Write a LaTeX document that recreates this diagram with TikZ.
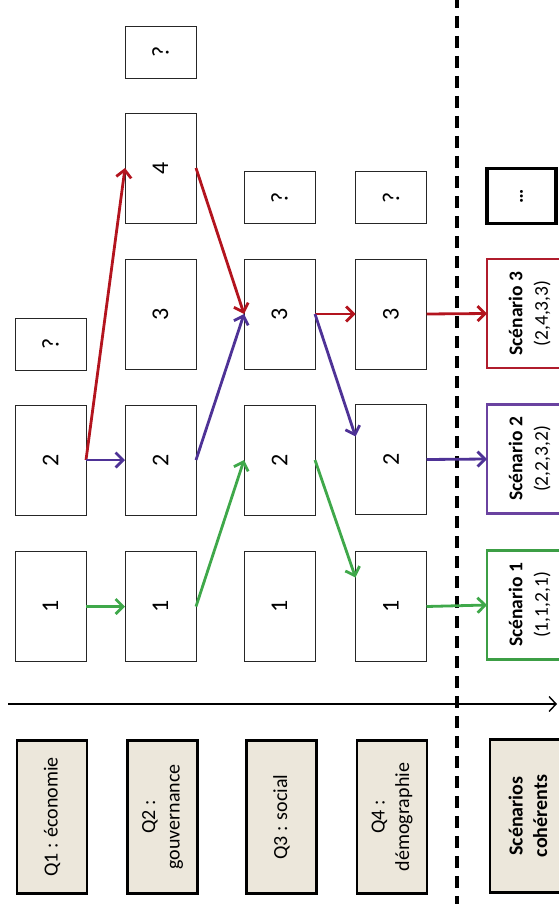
\documentclass[tikz,border=0pt]{standalone}
\usepackage{fontspec}
\setmainfont{Carlito}
\usetikzlibrary{arrows.meta}
\definecolor{cred}{HTML}{B3141E}
\definecolor{cpurple}{HTML}{4E3296}
\definecolor{cgreen}{HTML}{3FA84A}
\definecolor{tanfill}{HTML}{ECE7DB}
\definecolor{sred}{HTML}{B01C2C}
\definecolor{spurple}{HTML}{6A42A0}
\definecolor{sgreen}{HTML}{3C9E45}
\newcommand{\rtx}[1]{\rotatebox{90}{#1}}
\newcommand{\twol}[2]{\rotatebox{90}{\begin{tabular}{@{}c@{}}#1\\#2\end{tabular}}}
\begin{document}
\begin{tikzpicture}[x=1pt,y=-1pt,
  optbox/.style={draw=black!85, line width=0.9pt, fill=white, minimum width=71pt, minimum height=110pt,
     inner sep=0pt, outer sep=0pt, font=\fontsize{24}{28}\selectfont},
  smallbox/.style={optbox, minimum height=52pt},
  qbox/.style={draw=black, line width=2.2pt, fill=tanfill, minimum width=70pt, minimum height=153pt,
     inner sep=0pt, outer sep=0pt, font=\fontsize{20}{24.5}\selectfont},
  scen/.style={line width=2.6pt, fill=white, minimum width=86pt, minimum height=109pt,
     inner sep=0pt, outer sep=0pt, font=\fontsize{19.5}{25.5}\selectfont},
  conn/.style={line width=2.8pt, -{Straight Barb[length=7.5pt,width=15pt,line width=2.8pt]}},
  dashline/.style={line width=3.4pt, dash pattern=on 12pt off 8pt},
  axisline/.style={line width=1.4pt, -{Straight Barb[length=7pt,width=15pt,line width=1.4pt]}}
]
\useasboundingbox (0,0) rectangle (558,904);

% dashed separator
\coordinate (dtop) at (457,-4);
\coordinate (dbot) at (457,906);
\draw[dashline] (dtop) -- (dbot);

% axis
\coordinate (ax0) at (8,704);
\coordinate (ax1) at (557,704);
\draw[axisline] (ax0) -- (ax1);

% column 1
\node[optbox] (q1a) at (50.5,606.5) {\rtx{1}};
\node[optbox] (q1b) at (50.5,460) {\rtx{2}};
\node[smallbox] (q1q) at (50.5,344) {\rtx{?}};
% column 2
\node[optbox] (q2a) at (160.5,606.5) {\rtx{1}};
\node[optbox] (q2b) at (160.5,460) {\rtx{2}};
\node[optbox] (q2c) at (160.5,314) {\rtx{3}};
\node[optbox] (q2d) at (160.5,168) {\rtx{4}};
\node[smallbox] (q2q) at (160.5,52) {\rtx{?}};
% column 3
\node[optbox] (q3a) at (279.5,606.5) {\rtx{1}};
\node[optbox] (q3b) at (279.5,460) {\rtx{2}};
\node[optbox] (q3c) at (279.5,314) {\rtx{3}};
\node[smallbox] (q3q) at (279.5,197.5) {\rtx{?}};
% column 4
\node[optbox] (q4a) at (391,606.5) {\rtx{1}};
\node[optbox] (q4b) at (391,459.5) {\rtx{2}};
\node[optbox] (q4c) at (391,314) {\rtx{3}};
\node[smallbox] (q4q) at (391,197.5) {\rtx{?}};

% scenarios
\node[scen, draw=sgreen] (s1) at (530,605) {\twol{\textbf{Scénario 1}}{(1,1,2,1)}};
\node[scen, draw=spurple] (s2) at (530,459) {\twol{\textbf{Scénario 2}}{(2,2,3,2)}};
\node[scen, draw=sred] (s3) at (530,313.5) {\twol{\textbf{Scénario 3}}{(2,4,3,3)}};
\node[scen, draw=black, line width=3.4pt, minimum width=69pt, minimum height=55pt, font=\fontsize{20}{24}\selectfont] (sx) at (521.5,196) {\rtx{\textbf{\ldots}}};

% headers
\node[qbox] (h1) at (52,817) {\rtx{Q1 : économie}};
\node[qbox] (h2) at (162.5,817) {\twol{Q2 :}{gouvernance}};
\node[qbox] (h3) at (281.5,817) {\rtx{Q3 : social}};
\node[qbox] (h4) at (392,817) {\twol{Q4 :}{démographie}};
\node[qbox, minimum width=80pt] (h5) at (530,816) {\twol{\textbf{Scénarios}}{\textbf{cohérents}}};

% scenario 3 (red)
\draw[conn, cred] (q1b.east) -- (q2d.west);
\draw[conn, cred] (q2d.east) -- (q3c.west);
\draw[conn, cred] (q3c.east) -- (q4c.west);
\draw[conn, cred] (q4c.east) -- (s3.west);
% scenario 2 (purple)
\draw[conn, cpurple] (q1b.east) -- (q2b.west);
\draw[conn, cpurple] (q2b.east) -- (q3c.west);
\draw[conn, cpurple] (q3c.east) -- ([yshift=23pt]q4b.west);
\draw[conn, cpurple] (q4b.east) -- (s2.west);
% scenario 1 (green)
\draw[conn, cgreen] (q1a.east) -- (q2a.west);
\draw[conn, cgreen] (q2a.east) -- (q3b.west);
\draw[conn, cgreen] (q3b.east) -- ([yshift=29pt]q4a.west);
\draw[conn, cgreen] (q4a.east) -- (s1.west);
\end{tikzpicture}
\end{document}
